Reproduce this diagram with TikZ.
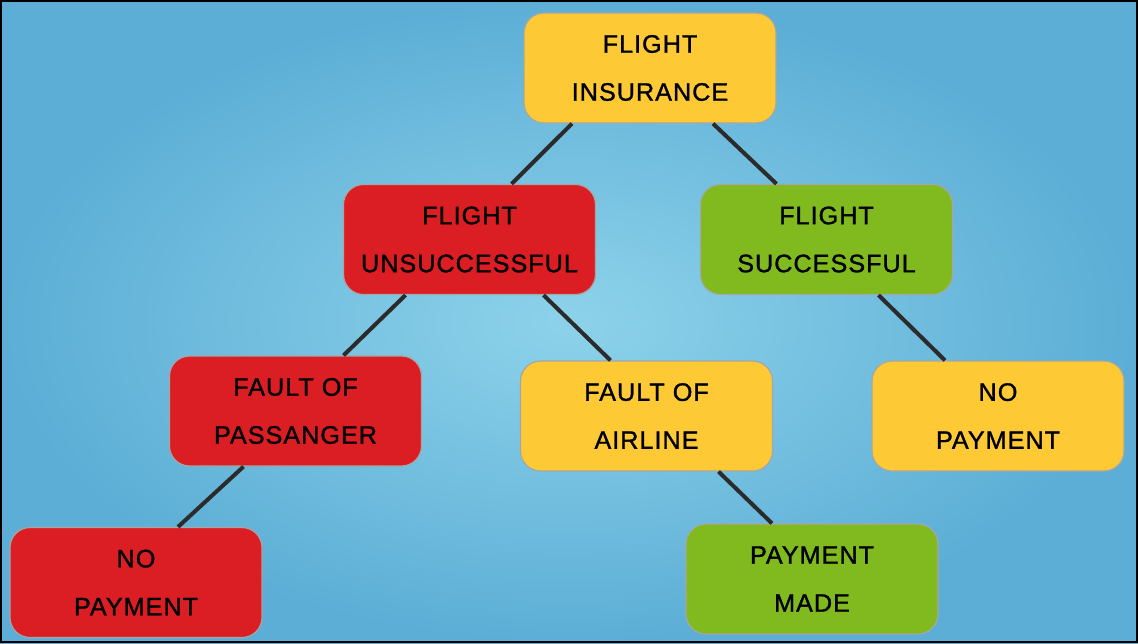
\documentclass[tikz,border=0pt]{standalone}
\usepackage{fontspec}
\usepackage{tikz}
\newfontfamily\boxfont[LetterSpace=4,FakeBold=1.2]{Liberation Sans}
\definecolor{boxyellow}{HTML}{FDC934}
\definecolor{boxred}{HTML}{DB1E24}
\definecolor{boxgreen}{HTML}{80BA1E}
\definecolor{skyin}{HTML}{8DD2EA}
\definecolor{skyout}{HTML}{5CAED6}
\definecolor{edgegray}{HTML}{2B2B2B}

\begin{document}
\begin{tikzpicture}[x=0.5pt,y=-0.5pt]
            \tikzstyle{box}=[rounded corners=10pt,draw=black!35,line width=0.6pt,minimum width=126pt,minimum height=55pt,inner sep=0pt,align=center,font=\boxfont\fontsize{12.6}{24}\selectfont]
            \tikzstyle{branch}=[draw=edgegray,line width=2pt]

            % background and frame
            \shade[inner color=skyin,outer color=skyout] (0,0) rectangle (1138,643);
            \useasboundingbox (0,0) rectangle (1138,643);

            \foreach \name/\x/\y/\col/\txt in {root/650/68/boxyellow/{FLIGHT\\INSURANCE},
                    uns/469.5/239.5/boxred/{FLIGHT\\UNSUCCESSFUL},
                    succ/826.5/239.5/boxgreen/{FLIGHT\\SUCCESSFUL},
                    pass/295.5/411/boxred/{FAULT OF\\PASSANGER},
                    air/646.5/416/boxyellow/{FAULT OF\\AIRLINE},
                    nopayR/998/416/boxyellow/{NO\\PAYMENT},
                    nopayL/136/582.5/boxred/{NO\\PAYMENT},
                    paid/812/579/boxgreen/{PAYMENT\\MADE}}
                    \node[box,fill=\col] (\name) at (\x,\y) {\txt};

                \foreach \from/\to/\a/\b in {root/uns/-39/21, root/succ/31.5/-25, uns/pass/-32/24, uns/air/37/-18, succ/nopayR/26/-26.5, pass/nopayL/-26/21, air/paid/36/-20}
                    \draw[branch] ([xshift=\a pt]\from.south) -- ([xshift=\b pt]\to.north);

            \draw[black,line width=1pt] (1,1) rectangle (1137,642);
        \end{tikzpicture}
\end{document}
